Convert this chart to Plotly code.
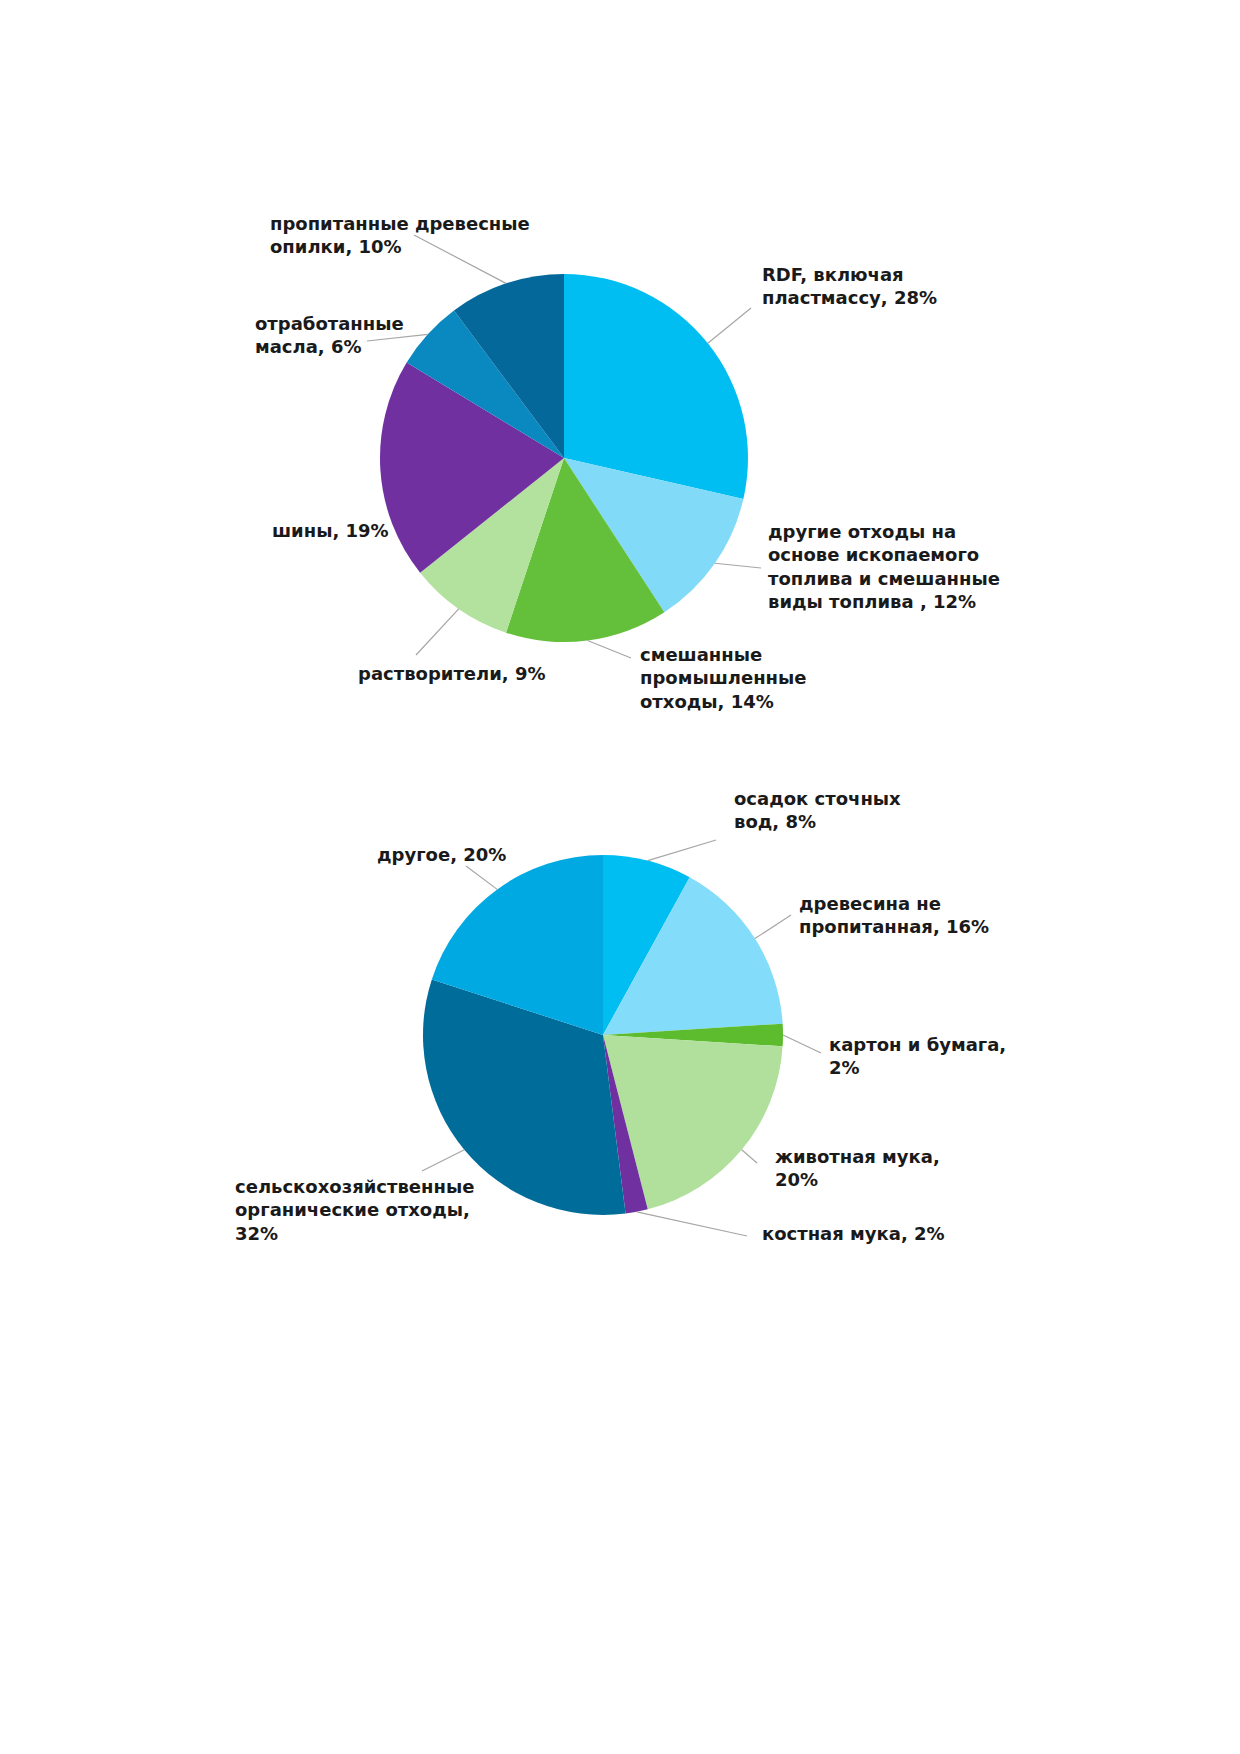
import math
import plotly.graph_objects as go

W, H = 1240, 1754

# top pie: waste-derived fuels
top_labels = ["RDF, включая<br>пластмассу, 28%",
              "другие отходы на<br>основе ископаемого<br>топлива и смешанные<br>виды топлива , 12%",
              "смешанные<br>промышленные<br>отходы, 14%",
              "растворители, 9%",
              "шины, 19%",
              "отработанные<br>масла, 6%",
              "пропитанные древесные<br>опилки, 10%"]
top_values = [28, 12, 14, 9, 19, 6, 10]
top_colors = ["#00BEF2", "#80DAF8", "#64C03A", "#B2E29E", "#7030A0", "#0A88C0", "#04689A"]

# bottom pie: biomass fuels
bot_labels = ["осадок сточных<br>вод, 8%",
              "древесина не<br>пропитанная, 16%",
              "картон и бумага,<br>2%",
              "животная мука,<br>20%",
              "костная мука, 2%",
              "сельскохозяйственные<br>органические отходы,<br>32%",
              "другое, 20%"]
bot_values = [8, 16, 2, 20, 2, 32, 20]
bot_colors = ["#00BDF2", "#82DCFA", "#5DBB2E", "#B1E09C", "#7030A0", "#006C9A", "#00A9E2"]

# label placement in page pixels: left x, first baseline y, leader end
top_pos = [(753, 273, (743, 300)), (759, 530, (753, 560)), (631, 653, (623, 650)),
           (349, 672, (408, 647)), (263, 529, None), (246, 322, (359, 333)),
           (261, 222, (406, 227))]
bot_pos = [(725, 797, (708, 832)), (790, 902, (783, 907)), (820, 1043, (813, 1045)),
           (766, 1155, (749, 1155)), (753, 1232, (739, 1228)), (226, 1185, (414, 1163)),
           (368, 853, (458, 858))]

pies = [
    dict(values=top_values, colors=top_colors, labels=top_labels, pos=top_pos, c=(556, 450), r=184),
    dict(values=bot_values, colors=bot_colors, labels=bot_labels, pos=bot_pos, c=(595, 1027), r=180),
]

FS = 18
fig = go.Figure()
shapes, annotations = [], []

for p in pies:
    cx, cy = p["c"]
    r = p["r"]
    fig.add_trace(go.Pie(
        values=p["values"], labels=[t.replace("<br>", " ") for t in p["labels"]],
        marker=dict(colors=p["colors"], line=dict(width=0)),
        sort=False, direction="clockwise", rotation=0,
        textinfo="none", hoverinfo="label", showlegend=False,
        domain=dict(x=[(cx - r) / W, (cx + r) / W], y=[1 - (cy + r) / H, 1 - (cy - r) / H]),
    ))
    total = sum(p["values"])
    cum = 0
    for v, txt, (lx, ly, end) in zip(p["values"], p["labels"], p["pos"]):
        ang = (cum + v / 2) / total * 2 * math.pi
        cum += v
        sx, sy = cx + r * math.sin(ang), cy - r * math.cos(ang)
        if end is not None:
            shapes.append(dict(type="line", xref="paper", yref="paper",
                               x0=sx / W, y0=1 - sy / H, x1=end[0] / W, y1=1 - end[1] / H,
                               line=dict(color="#A6A6A6", width=1.2)))
        annotations.append(dict(text=txt, xref="paper", yref="paper",
                                x=lx / W, y=1 - (ly - 0.95 * FS - 1) / H,
                                xanchor="left", yanchor="top", align="left", showarrow=False,
                                font=dict(family="DejaVu Sans", size=FS, color="#1A1A1A"),
                                borderpad=0))

fig.update_layout(
    width=W, height=H,
    margin=dict(l=0, r=0, t=0, b=0),
    paper_bgcolor="white", plot_bgcolor="white",
    shapes=shapes, annotations=annotations,
)
fig.update_annotations(font_weight="bold")

fig.write_html("out.html")
